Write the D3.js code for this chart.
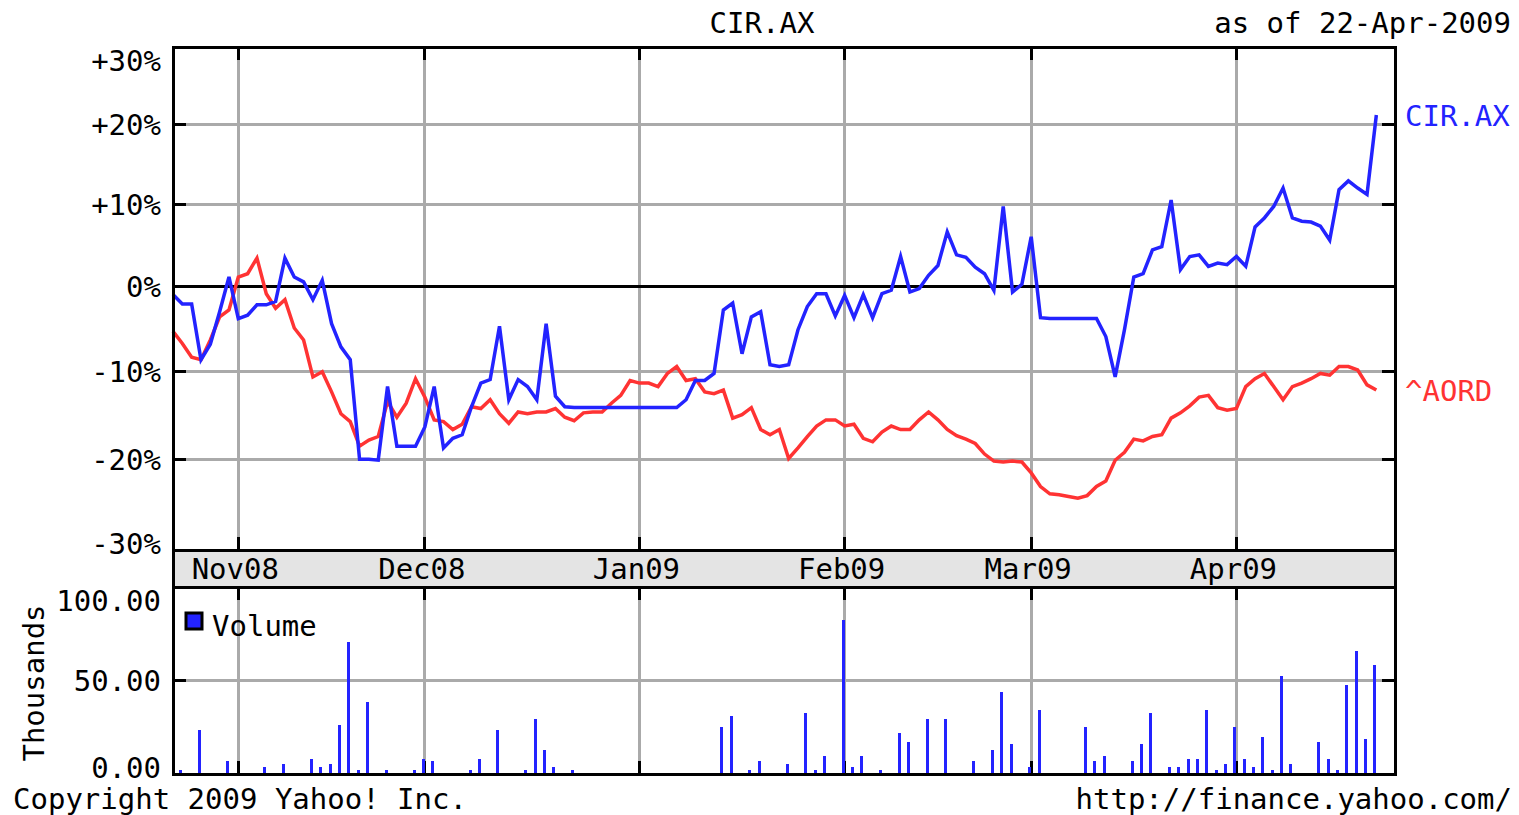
<!DOCTYPE html>
<meta charset="utf-8">
<style>
body { margin: 0; background: #fff; }
svg { display: block; }
text { font-family: "DejaVu Sans Mono", monospace; font-size: 29px; fill: #000; }
.grid { stroke: #aaa; stroke-width: 3px; shape-rendering: crispEdges; }
.tick { stroke: #000; stroke-width: 3px; shape-rendering: crispEdges; }
.frame { fill: none; stroke: #000; stroke-width: 3px; shape-rendering: crispEdges; }
.line { fill: none; stroke-width: 3.5px; stroke-linejoin: miter; }
</style>
<svg width="1519" height="815"></svg>
<script src="https://d3js.org/d3.v7.min.js"></script>
<script>
var symbol = "CIR.AX", indexName = "^AORD";
var asOf = "22-Apr-2009";
var firstDay = "2008-10-23", lastDay = "2009-04-24";
var monthStarts = ["2008-11-01", "2008-12-01", "2009-01-01", "2009-02-01", "2009-03-01", "2009-04-01"];
var pctTicks = [-30, -20, -10, 0, 10, 20, 30];
var volTicks = [0, 50, 100];

// % change since 23-Oct-2008, one value per weekday
var cirPct = [
  -1.0, -2.1, -2.1, -8.6, -6.8, -3.0, 1.1, -3.8, -3.4, -2.2,
  -2.2, -1.8, 3.4, 1.1, 0.5, -1.6, 0.7, -4.4, -7.1, -8.6,
  -20.0, -20.0, -20.1, -11.7, -18.5, -18.5, -18.5, -16.3, -11.7, -18.7,
  -17.6, -17.2, -14.0, -11.3, -10.9, -4.7, -13.2, -10.9, -11.7, -13.2,
  -4.4, -12.8, -14.0, -14.1, -14.1, -14.1, -14.1, -14.1, -14.1, -14.1,
  -14.1, -14.1, -14.1, -14.1, -14.1, -13.2, -11.0, -11.0, -10.2, -2.8,
  -2.0, -7.9, -3.6, -3.0, -9.2, -9.4, -9.2, -5.1, -2.4, -0.9,
  -0.9, -3.5, -1.1, -3.7, -1.0, -3.7, -0.9, -0.5, 3.6, -0.7,
  -0.3, 1.3, 2.5, 6.6, 3.8, 3.5, 2.3, 1.5, -0.5, 9.7,
  -0.7, 0.2, 6.0, -3.7, -3.8, -3.8, -3.8, -3.8, -3.8, -3.8,
  -5.9, -10.6, -5.1, 1.1, 1.5, 4.4, 4.8, 10.5, 2.0, 3.6,
  3.8, 2.4, 2.8, 2.6, 3.6, 2.4, 7.2, 8.3, 9.7, 12.0,
  8.3, 7.9, 7.8, 7.3, 5.6, 11.8, 12.9, 12.0, 11.2, 21.2
];
var aordPct = [
  -5.3, -6.7, -8.3, -8.6, -6.3, -3.6, -2.8, 1.1, 1.5, 3.4,
  -0.9, -2.6, -1.6, -4.9, -6.3, -10.6, -10.0, -12.3, -14.8, -15.7,
  -18.5, -17.8, -17.4, -13.4, -15.2, -13.6, -10.8, -12.9, -15.5, -15.7,
  -16.6, -16.0, -14.0, -14.2, -13.2, -14.8, -15.9, -14.6, -14.8, -14.6,
  -14.6, -14.2, -15.2, -15.6, -14.7, -14.6, -14.6, -13.6, -12.7, -11.0,
  -11.3, -11.3, -11.7, -10.2, -9.4, -11.0, -10.8, -12.3, -12.5, -12.1,
  -15.3, -14.9, -14.1, -16.6, -17.2, -16.6, -19.9, -18.7, -17.4, -16.2,
  -15.5, -15.5, -16.2, -16.0, -17.6, -18.0, -16.9, -16.2, -16.6, -16.6,
  -15.5, -14.6, -15.5, -16.6, -17.3, -17.7, -18.2, -19.4, -20.2, -20.3,
  -20.2, -20.3, -21.5, -23.0, -23.8, -23.9, -24.1, -24.3, -24.0, -23.0,
  -22.4, -20.1, -19.2, -17.7, -17.9, -17.4, -17.2, -15.3, -14.7, -13.9,
  -12.9, -12.7, -14.1, -14.4, -14.2, -11.7, -10.8, -10.2, -11.7, -13.2,
  -11.7, -11.3, -10.8, -10.2, -10.4, -9.4, -9.4, -9.8, -11.5, -12.1
];
// volume in thousands, one value per weekday
var volume = [
  0, 2, 0, 23.5, 0, 0, 7, 0, 0, 0,
  3.7, 0, 5.3, 0, 0, 8, 3.7, 5.3, 26, 70.6,
  2, 38.5, 0, 2, 0, 0, 2, 8, 7, 0,
  0, 0, 2, 8, 0, 23.5, 0, 0, 2, 29.4,
  12.8, 3.7, 0, 2, 0, 0, 0, 0, 0, 0,
  0, 0, 0, 0, 0, 0, 0, 0, 0, 25,
  31, 0, 2, 7, 0, 0, 5.3, 0, 32.6, 2,
  9.6, 0, 82.4, 3.7, 9.6, 0, 2, 0, 22, 17,
  0, 29.4, 0, 29.4, 0, 0, 7, 0, 12.8, 44,
  16, 0, 3.7, 34, 0, 0, 0, 0, 25, 7,
  9.6, 0, 0, 7, 16, 32.6, 0, 3.7, 3.7, 8,
  8, 34, 2, 5.3, 25, 8, 3.7, 20, 2, 52.4,
  5.3, 0, 0, 17, 8, 2, 47.6, 65.8, 18.7, 58.3
];

var svg = d3.select("svg");
var parse = d3.timeParse("%Y-%m-%d");
var days = d3.timeDay.range(parse(firstDay), d3.timeDay.offset(parse(lastDay), 1))
    .filter(function(d) { return d.getDay() != 0 && d.getDay() != 6; });

var plotLeft = 173, plotRight = 1395,
    plotTop = 47, plotBottom = 550,
    bandBottom = 587, volBottom = 774,
    tickLen = 13;

var x = d3.scaleLinear().domain([0, days.length - 1]).range([plotLeft, plotRight]);
// the y axis of the original is not quite linear, so one segment per 10%
var y = d3.scaleLinear().domain(pctTicks).range([550, 459.3, 371.7, 286, 204, 124.3, 47]);
var yv = d3.scaleLinear().domain([0, 100]).range([volBottom, bandBottom]);

var months = monthStarts.map(function(s) {
    var m = parse(s);
    return { date: m, i: d3.bisector(function(d) { return d; }).left(days, m) };
});
var fmtMonth = d3.timeFormat("%b%y");

// ---- price panel grid
var g = svg.append("g");
pctTicks.filter(function(t) { return t != 0 && Math.abs(t) != 30; }).forEach(function(t) {
    g.append("line").attr("class", "grid")
        .attr("x1", plotLeft).attr("x2", plotRight).attr("y1", y(t)).attr("y2", y(t));
    g.append("line").attr("class", "tick")
        .attr("x1", plotLeft).attr("x2", plotLeft + tickLen).attr("y1", y(t)).attr("y2", y(t));
    g.append("line").attr("class", "tick")
        .attr("x1", plotRight - tickLen).attr("x2", plotRight).attr("y1", y(t)).attr("y2", y(t));
});
months.forEach(function(m) {
    var xx = x(m.i);
    g.append("line").attr("class", "grid").attr("x1", xx).attr("x2", xx).attr("y1", plotTop).attr("y2", plotBottom);
    g.append("line").attr("class", "tick").attr("x1", xx).attr("x2", xx).attr("y1", plotTop).attr("y2", plotTop + tickLen);
    g.append("line").attr("class", "tick").attr("x1", xx).attr("x2", xx).attr("y1", plotBottom - tickLen).attr("y2", plotBottom);
    g.append("line").attr("class", "grid").attr("x1", xx).attr("x2", xx).attr("y1", bandBottom).attr("y2", volBottom);
    g.append("line").attr("class", "tick").attr("x1", xx).attr("x2", xx).attr("y1", bandBottom).attr("y2", bandBottom + tickLen);
    g.append("line").attr("class", "tick").attr("x1", xx).attr("x2", xx).attr("y1", volBottom - tickLen).attr("y2", volBottom);
});
g.append("line").attr("class", "tick")
    .attr("x1", plotLeft).attr("x2", plotRight).attr("y1", y(0)).attr("y2", y(0));

// ---- volume grid
g.append("line").attr("class", "grid")
    .attr("x1", plotLeft).attr("x2", plotRight).attr("y1", yv(50)).attr("y2", yv(50));
g.append("line").attr("class", "tick")
    .attr("x1", plotLeft).attr("x2", plotLeft + tickLen).attr("y1", yv(50)).attr("y2", yv(50));
g.append("line").attr("class", "tick")
    .attr("x1", plotRight - tickLen).attr("x2", plotRight).attr("y1", yv(50)).attr("y2", yv(50));

// ---- lines
var line = d3.line()
    .x(function(d, i) { return x(i); })
    .y(function(d) { return y(d); });

svg.append("path").attr("class", "line")
    .attr("stroke", "#ff3333")
    .attr("d", line(aordPct));
svg.append("path").attr("class", "line")
    .attr("stroke", "#2323ff")
    .attr("d", line(cirPct));

// ---- volume bars
svg.append("g").selectAll("rect")
    .data(volume.map(function(v, i) { return { v: v, i: i }; }).filter(function(d) { return d.v > 0; }))
    .enter().append("rect")
    .attr("x", function(d) { return x(d.i) - 3; })
    .attr("width", 3)
    .attr("y", function(d) { return yv(d.v); })
    .attr("height", function(d) { return yv(0) - yv(d.v); })
    .attr("fill", "#2323ff")
    .attr("shape-rendering", "crispEdges");

// ---- frames and month band
svg.append("rect").attr("class", "frame")
    .attr("x", plotLeft).attr("y", plotTop).attr("width", plotRight - plotLeft).attr("height", plotBottom - plotTop);
svg.append("rect").attr("class", "frame").style("fill", "#e4e4e4")
    .attr("x", plotLeft).attr("y", plotBottom).attr("width", plotRight - plotLeft).attr("height", bandBottom - plotBottom);
svg.append("rect").attr("class", "frame")
    .attr("x", plotLeft).attr("y", bandBottom).attr("width", plotRight - plotLeft).attr("height", volBottom - bandBottom);

svg.append("g").selectAll("text")
    .data(months)
    .enter().append("text")
    .attr("x", function(d) { return x(d.i) - 3; })
    .attr("y", 579)
    .attr("text-anchor", "middle")
    .text(function(d) { return fmtMonth(d.date); });

// ---- axis labels
svg.append("g").selectAll("text")
    .data(pctTicks)
    .enter().append("text")
    .attr("x", 161)
    .attr("y", function(d) { return Math.min(Math.max(y(d), plotTop + 13), plotBottom - 7) + 10.5; })
    .attr("text-anchor", "end")
    .text(function(d) { return (d > 0 ? "+" : "") + d + "%"; });

svg.append("g").selectAll("text")
    .data(volTicks)
    .enter().append("text")
    .attr("x", 161)
    .attr("y", function(d) { return Math.min(Math.max(yv(d), bandBottom + 13), volBottom - 7) + 10.5; })
    .attr("text-anchor", "end")
    .text(function(d) { return d3.format(".2f")(d); });

svg.append("text")
    .attr("transform", "translate(44,683) rotate(-90)")
    .attr("text-anchor", "middle")
    .text("Thousands");

// ---- series labels at last value
svg.append("text").attr("x", 1405).attr("y", y(cirPct[cirPct.length - 1]) + 10.5)
    .style("fill", "#2323ff").text(symbol);
svg.append("text").attr("x", 1405).attr("y", y(aordPct[aordPct.length - 1]) + 10.5)
    .style("fill", "#ff3333").text(indexName);

// ---- legend
svg.append("rect").attr("x", 186).attr("y", 613).attr("width", 16).attr("height", 16)
    .attr("fill", "#2323ff").attr("stroke", "#000").attr("stroke-width", 3);
svg.append("text").attr("x", 212).attr("y", 636).text("Volume");

// ---- titles and footer
svg.append("text").attr("x", 762).attr("y", 33).attr("text-anchor", "middle").text(symbol);
svg.append("text").attr("x", 1511).attr("y", 33).attr("text-anchor", "end").text("as of " + asOf);
svg.append("text").attr("x", 13).attr("y", 809).text("Copyright 2009 Yahoo! Inc.");
svg.append("text").attr("x", 1512).attr("y", 809).attr("text-anchor", "end").text("http://finance.yahoo.com/");
</script>
